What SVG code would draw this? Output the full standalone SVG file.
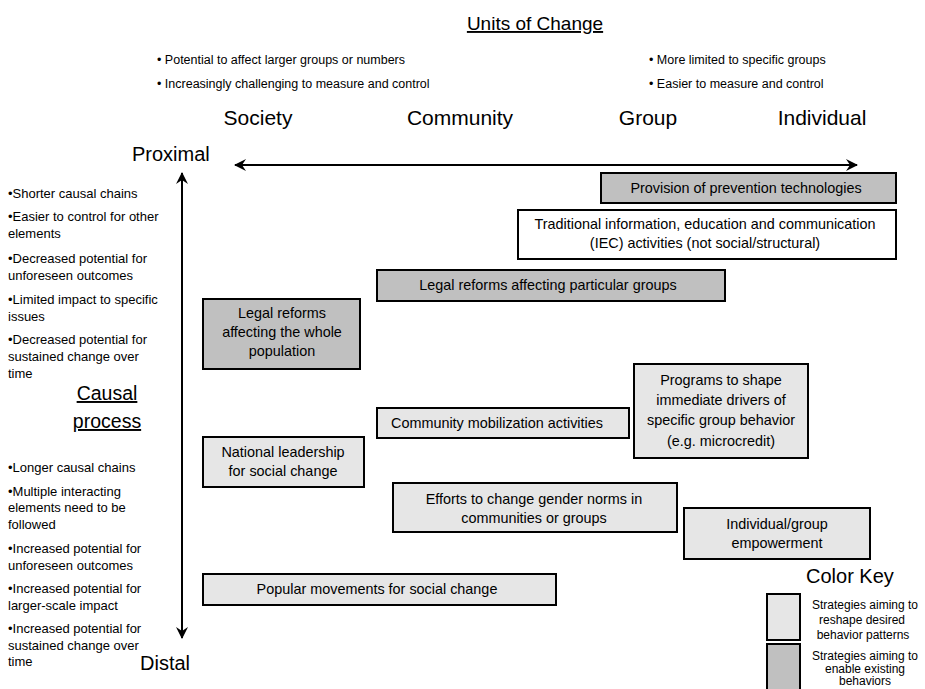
<svg xmlns="http://www.w3.org/2000/svg" width="925" height="689" viewBox="0 0 925 689">
<style>
text { font-family: "Liberation Sans", Arial, Helvetica, sans-serif; fill: #000; }
.title { font-size: 19px; text-anchor: middle; text-decoration: underline; }
.col { font-size: 21px; text-anchor: middle; }
.axis { font-size: 20px; }
.tb { font-size: 12.5px; }
.lb { font-size: 13px; }
.cp { font-size: 19.5px; text-anchor: middle; text-decoration: underline; }
.bx { font-size: 14.4px; text-anchor: middle; }
.key { font-size: 12px; text-anchor: middle; }
.nd { stroke: #000; stroke-width: 2; }
.dark { fill: #c0c0c0; }
.light { fill: #e6e6e6; }
.white { fill: #ffffff; }
.arr { stroke: #000; stroke-width: 2; fill: none; }
</style>
<defs>
<marker id="ah" viewBox="0 0 12 12" refX="11" refY="6" markerWidth="12" markerHeight="12" markerUnits="userSpaceOnUse" orient="auto-start-reverse">
<path d="M0,0 L12,6 L0,12 L4,6 z" fill="#000"/>
</marker>
</defs>
<rect x="0" y="0" width="925" height="689" fill="#fff"/>

<g id="header">
<text class="title" x="535" y="30">Units of Change</text>
<text class="tb" x="157" y="64">• Potential to affect larger groups or numbers</text>
<text class="tb" x="157" y="88">• Increasingly challenging to measure and control</text>
<text class="tb" x="649" y="64">• More limited to specific groups</text>
<text class="tb" x="649" y="88">• Easier to measure and control</text>
<text class="col" x="258" y="125">Society</text>
<text class="col" x="460" y="125">Community</text>
<text class="col" x="648" y="125">Group</text>
<text class="col" x="822" y="125">Individual</text>
<text class="axis" x="132" y="161">Proximal</text>
<text class="axis" x="140" y="670">Distal</text>
</g>

<g id="left-notes">
<text class="lb" x="8" y="198">•Shorter causal chains</text>
<text class="lb" x="8" y="221">•Easier to control for other</text>
<text class="lb" x="8" y="238">elements</text>
<text class="lb" x="8" y="263">•Decreased potential for</text>
<text class="lb" x="8" y="280">unforeseen outcomes</text>
<text class="lb" x="8" y="304">•Limited impact to specific</text>
<text class="lb" x="8" y="321">issues</text>
<text class="lb" x="8" y="344">•Decreased potential for</text>
<text class="lb" x="8" y="361">sustained change over</text>
<text class="lb" x="8" y="378">time</text>
<text class="cp" x="107" y="400">Causal</text>
<text class="cp" x="107" y="428">process</text>
<text class="lb" x="8" y="472">•Longer causal chains</text>
<text class="lb" x="8" y="496">•Multiple interacting</text>
<text class="lb" x="8" y="512">elements need to be</text>
<text class="lb" x="8" y="529">followed</text>
<text class="lb" x="8" y="553">•Increased potential for</text>
<text class="lb" x="8" y="570">unforeseen outcomes</text>
<text class="lb" x="8" y="593">•Increased potential for</text>
<text class="lb" x="8" y="610">larger-scale impact</text>
<text class="lb" x="8" y="633">•Increased potential for</text>
<text class="lb" x="8" y="650">sustained change over</text>
<text class="lb" x="8" y="666">time</text>
</g>

<g id="connectors">
<line class="arr" x1="235" y1="165" x2="857" y2="165" marker-start="url(#ah)" marker-end="url(#ah)"/>
<line class="arr" x1="182" y1="173" x2="182" y2="638" marker-start="url(#ah)" marker-end="url(#ah)"/>
</g>

<g id="provision">
<rect class="nd dark" x="601" y="173" width="295" height="30"/>
<text class="bx" x="746" y="193">Provision of prevention technologies</text>
</g>
<g id="iec">
<rect class="nd white" x="518" y="210" width="378" height="49"/>
<text class="bx" x="705" y="229">Traditional information, education and communication</text>
<text class="bx" x="705" y="248">(IEC) activities (not social/structural)</text>
</g>
<g id="legal-groups">
<rect class="nd dark" x="377" y="270" width="348" height="31"/>
<text class="bx" x="548" y="290">Legal reforms affecting particular groups</text>
</g>
<g id="legal-population">
<rect class="nd dark" x="203" y="299" width="157" height="70"/>
<text class="bx" x="282" y="318">Legal reforms</text>
<text class="bx" x="282" y="337">affecting the whole</text>
<text class="bx" x="282" y="356">population</text>
</g>
<g id="programs">
<rect class="nd light" x="634" y="364" width="174" height="94"/>
<text class="bx" x="721" y="385">Programs to shape</text>
<text class="bx" x="721" y="405">immediate drivers of</text>
<text class="bx" x="721" y="425">specific group behavior</text>
<text class="bx" x="721" y="446">(e.g. microcredit)</text>
</g>
<g id="community-mobilization">
<rect class="nd light" x="377" y="408" width="252" height="30"/>
<text class="bx" x="497" y="428">Community mobilization activities</text>
</g>
<g id="national-leadership">
<rect class="nd light" x="203" y="437" width="161" height="50"/>
<text class="bx" x="283" y="457">National leadership</text>
<text class="bx" x="283" y="476">for social change</text>
</g>
<g id="gender-norms">
<rect class="nd light" x="393" y="483" width="284" height="49"/>
<text class="bx" x="534" y="504">Efforts to change gender norms in</text>
<text class="bx" x="534" y="523">communities or groups</text>
</g>
<g id="empowerment">
<rect class="nd light" x="684" y="508" width="186" height="51"/>
<text class="bx" x="777" y="529">Individual/group</text>
<text class="bx" x="777" y="548">empowerment</text>
</g>
<g id="popular-movements">
<rect class="nd light" x="203" y="574" width="353" height="31"/>
<text class="bx" x="377" y="594">Popular movements for social change</text>
</g>

<g id="color-key">
<text class="axis" x="806" y="583">Color Key</text>
<rect class="nd light" x="767" y="594" width="33" height="46"/>
<rect class="nd dark" x="767" y="644" width="33" height="50"/>
<text class="key" x="865" y="609">Strategies aiming to</text>
<text class="key" x="862" y="624">reshape desired</text>
<text class="key" x="863" y="639">behavior patterns</text>
<text class="key" x="865" y="660">Strategies aiming to</text>
<text class="key" x="865" y="672.5">enable existing</text>
<text class="key" x="865" y="685">behaviors</text>
</g>
</svg>
